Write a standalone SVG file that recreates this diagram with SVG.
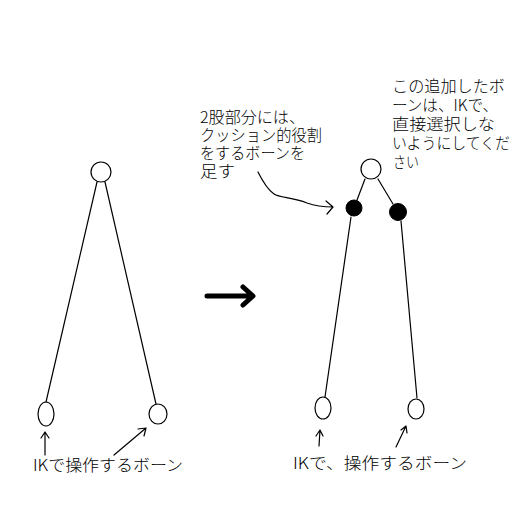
<svg xmlns="http://www.w3.org/2000/svg" width="512" height="512" viewBox="0 0 512 512">
<style>
.ln{fill:none;stroke:#000;stroke-width:1.2;stroke-linecap:round;stroke-linejoin:round}
.nd{fill:#fff;stroke:#000;stroke-width:1.2}
.bk{fill:#000;stroke:#000;stroke-width:1}
.t{font-family:"Noto Sans CJK JP","Liberation Sans",sans-serif;font-size:15.5px;font-weight:300;fill:#000}
</style>
<rect width="512" height="512" fill="#fff"/>
<g id="connectors">
<path class="ln" d="M97,182 L46,402"/>
<path class="ln" d="M105,182 L156,404"/>
<path class="ln" d="M45,455 L45,433 M41,438 L45,432 L49,438"/>
<path class="ln" d="M114,455 L146,428 M138,429 L146,428 L144,436"/>
<path d="M207,296 L252,296 M243,287 L253,296 L243,305" fill="none" stroke="#000" stroke-width="5" stroke-linecap="round" stroke-linejoin="round"/>
<path class="ln" d="M365,179 L357,200"/>
<path class="ln" d="M378,179 L393,204"/>
<path class="ln" d="M351,217 L325,397"/>
<path class="ln" d="M401,221 L417,398"/>
<path class="ln" d="M319,446 L320,430 M316,436 L320,430 L323,436"/>
<path class="ln" d="M396,447 L406,426 M401,430 L406,426 L407,433"/>
<path class="ln" d="M258,172 C262,180 268,190 274,194 C280,198 292,197 307,203 C318,207 326,207 333,207 M326,201 L333,207 L327,214"/>
</g>
<g id="left-root"><circle class="nd" cx="101" cy="172" r="10"/></g>
<g id="left-ik-a"><ellipse class="nd" cx="46" cy="414" rx="8" ry="12"/></g>
<g id="left-ik-b"><ellipse class="nd" cx="158" cy="414" rx="9" ry="10"/></g>
<g id="right-root"><circle class="nd" cx="371" cy="169" r="10"/></g>
<g id="right-cushion-a"><circle class="bk" cx="354" cy="208" r="8"/></g>
<g id="right-cushion-b"><circle class="bk" cx="398" cy="212" r="8.5"/></g>
<g id="right-ik-a"><ellipse class="nd" cx="323" cy="408" rx="8" ry="11"/></g>
<g id="right-ik-b"><ellipse class="nd" cx="416" cy="409" rx="8" ry="10"/></g>
<g id="label-left"><text class="t" x="33" y="471" textLength="150" lengthAdjust="spacingAndGlyphs">IKで操作するボーン</text></g>
<g id="label-right"><text class="t" x="293" y="469" textLength="174" lengthAdjust="spacingAndGlyphs">IKで、操作するボーン</text></g>
<g id="note-cushion">
<text class="t" x="200" y="123" textLength="105" lengthAdjust="spacingAndGlyphs">2股部分には、</text>
<text class="t" x="200" y="141" textLength="122" lengthAdjust="spacingAndGlyphs">クッション的役割</text>
<text class="t" x="200" y="159" textLength="105" lengthAdjust="spacingAndGlyphs">をするボーンを</text>
<text class="t" x="200" y="177" textLength="35" lengthAdjust="spacingAndGlyphs">足す</text>
</g>
<g id="note-select">
<text class="t" x="392" y="92" textLength="113" lengthAdjust="spacingAndGlyphs">この追加したボ</text>
<text class="t" x="392" y="111" textLength="106" lengthAdjust="spacingAndGlyphs">ーンは、IKで、</text>
<text class="t" x="392" y="130" textLength="103" lengthAdjust="spacingAndGlyphs">直接選択しな</text>
<text class="t" x="392" y="149" textLength="118" lengthAdjust="spacingAndGlyphs">いようにしてくだ</text>
<text class="t" x="393" y="168" textLength="26" lengthAdjust="spacingAndGlyphs">さい</text>
</g>
</svg>
